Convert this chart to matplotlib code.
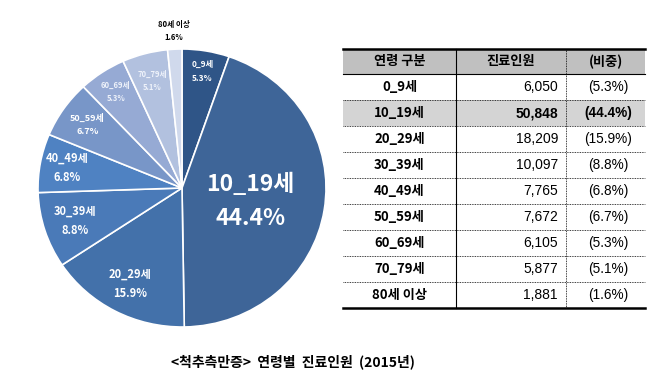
import matplotlib
matplotlib.use("Agg")
import numpy as np
import matplotlib.pyplot as plt
from matplotlib.patches import Rectangle

plt.rcParams['font.family'] = ['Noto Sans CJK KR', 'DejaVu Sans']

ages = ['0_9세', '10_19세', '20_29세', '30_39세', '40_49세',
        '50_59세', '60_69세', '70_79세', '80세 이상']
patients = [6050, 50848, 18209, 10097, 7765, 7672, 6105, 5877, 1881]
shares = [5.3, 44.4, 15.9, 8.8, 6.8, 6.7, 5.3, 5.1, 1.6]
headers = ['연령 구분', '진료인원', '(비중)']
title = '<척추측만증>  연령별  진료인원  (2015년)'

colors = ['#2f5587', '#3e6598', '#4371aa', '#4a7ab8', '#4f82c2',
          '#7896c8', '#96aad4', '#b2c1df', '#d0d9ec']
label_r = [0.85, 0.48, 0.78, 0.78, 0.81, 0.80, 0.83, 0.80, 1.13]
label_fs = [6, 16.5, 8, 8, 8, 6.5, 5.5, 5.5, 5.5]
label_col = ['white'] * 6 + ['#eef2fa', '#eef2fa', 'black']

W, H = 658, 384
fig = plt.figure(figsize=(W / 100, H / 100), dpi=100)
fig.patch.set_facecolor('white')

# pie (slightly wider than tall, like the reference)
cx, cy, rx, ry = 182, 188, 144, 139
ax = fig.add_axes([(cx - rx) / W, (H - cy - ry) / H, 2 * rx / W, 2 * ry / H])
wedges, _ = ax.pie(shares, colors=colors, startangle=90, counterclock=False,
                   wedgeprops=dict(edgecolor='white', linewidth=1.2))
ax.set_aspect('auto')
ax.set_xlim(-1, 1)
ax.set_ylim(-1, 1)
ax.axis('off')

for i, w in enumerate(wedges):
    ang = np.deg2rad((w.theta1 + w.theta2) / 2)
    x, y = label_r[i] * np.cos(ang), label_r[i] * np.sin(ang)
    if i == 1:
        ax.text(x, y + 0.10, ages[i], ha='center', va='center', color='white',
                fontsize=label_fs[i], fontweight='bold')
        ax.text(x, y - 0.14, f'{shares[i]}%', ha='center', va='center', color='white',
                fontsize=label_fs[i], fontweight='bold')
    else:
        ax.text(x, y, f'{ages[i]}\n{shares[i]}%', ha='center', va='center',
                color=label_col[i], fontsize=label_fs[i], fontweight='bold',
                linespacing=1.6)

# table drawn in pixel coordinates
tx = fig.add_axes([0, 0, 1, 1])
tx.set_xlim(0, W)
tx.set_ylim(H, 0)
tx.axis('off')

x0, x1, x2, x3 = 343, 456, 566, 645
top, head_bot, row_h = 49, 74, 26
bottom = head_bot + row_h * len(ages)

tx.add_patch(Rectangle((x0, top), x3 - x0, head_bot - top, color='#c0c0c0', lw=0))
tx.add_patch(Rectangle((x0, head_bot + row_h), x3 - x0, row_h, color='#d4d4d4', lw=0))

tx.plot([x0, x3], [top, top], color='black', lw=1.8)
tx.plot([x0, x3], [head_bot, head_bot], color='black', lw=0.8)
tx.plot([x0, x3], [bottom, bottom], color='black', lw=1.8)
for k in range(1, len(ages)):
    yy = head_bot + k * row_h
    tx.plot([x0, x3], [yy, yy], color='black', lw=0.6, ls=(0, (1, 1)))
tx.plot([x1, x1], [top, bottom], color='black', lw=0.8)
tx.plot([x2, x2], [top, bottom], color='black', lw=0.6, ls=(0, (1, 1)))

hy = (top + head_bot) / 2
tx.text((x0 + x1) / 2, hy, headers[0], ha='center', va='center', fontsize=9.5, fontweight='bold')
tx.text((x1 + x2) / 2, hy, headers[1], ha='center', va='center', fontsize=9.5, fontweight='bold')
tx.text((x2 + x3) / 2, hy, headers[2], ha='center', va='center', fontsize=9.5, fontweight='bold')

for k, (a, n, s) in enumerate(zip(ages, patients, shares)):
    yy = head_bot + k * row_h + row_h / 2
    bold = 'bold' if k == 1 else 'normal'
    tx.text((x0 + x1) / 2, yy, a, ha='center', va='center', fontsize=9.5, fontweight='bold')
    tx.text(x2 - 8, yy, f'{n:,}', ha='right', va='center', fontsize=10,
            fontweight=bold, family=['Liberation Sans'])
    tx.text((x2 + x3) / 2 + 3, yy, f'({s}%)', ha='center', va='center', fontsize=9.8,
            fontweight=bold, family=['Liberation Sans'])

tx.text(293, 362, title, ha='center', va='center', fontsize=10, fontweight='bold')

fig.savefig('out.png', dpi=100)
